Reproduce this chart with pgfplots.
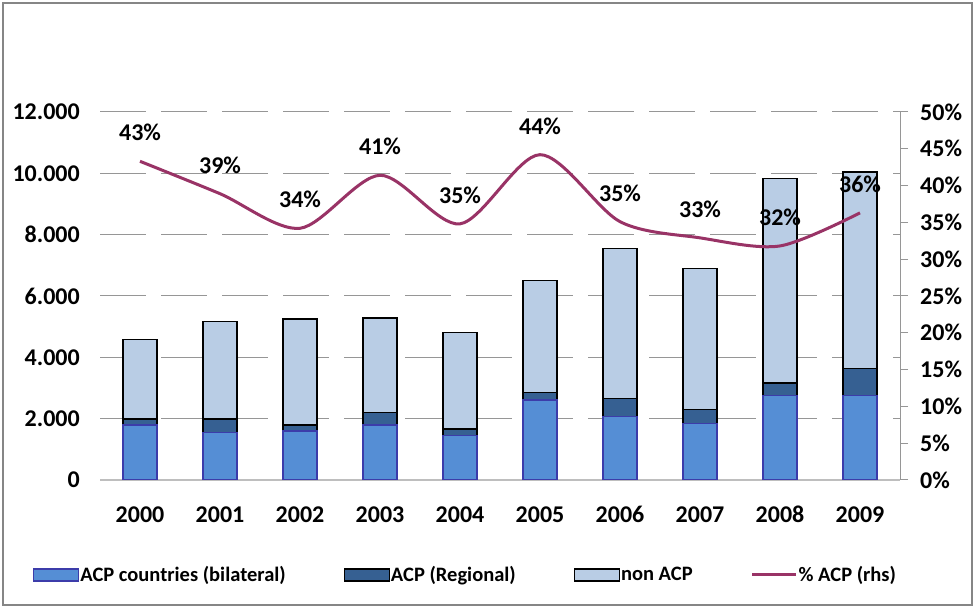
\documentclass[border=0pt]{standalone}
\usepackage{fontspec}
\setmainfont{Carlito}[Numbers=Lining]
\usepackage{pgfplots}
\pgfplotsset{compat=1.18}
\definecolor{bilat}{RGB}{85,142,213}
\definecolor{bilatedge}{RGB}{60,60,170}
\definecolor{regio}{RGB}{54,96,146}
\definecolor{nonacp}{RGB}{185,205,229}
\definecolor{acpline}{RGB}{153,51,102}
\definecolor{gridc}{RGB}{150,150,150}
\definecolor{framec}{RGB}{134,134,134}
\definecolor{basec}{RGB}{190,190,190}
\pgfplotsset{
  barlegend/.style={legend image code/.code={\draw[##1] (0bp,-6bp) rectangle (45bp,6bp);}},
  linelegend/.style={legend image code/.code={\draw[##1] (0bp,0bp) -- (44bp,0bp);}},
  common/.style={
    at={(100bp,128bp)}, anchor=south west,
    scale only axis, width=800bp, height=368bp,
    xmin=-0.5, xmax=9.5,
    /pgf/number format/assume math mode=true,
    tick label style={font=\fontsize{24bp}{28bp}\selectfont\bfseries},
  },
}
\begin{document}
\begin{tikzpicture}[x=1bp,y=1bp]
\path[use as bounding box] (0,0) rectangle (975,608);
\draw[framec, line width=1.2bp] (3,3) rectangle (972,605);
\begin{axis}[
  common,
  ymin=0, ymax=12000,
  ybar stacked, bar width=34bp,
  xtick={0,1,2,3,4,5,6,7,8,9},
  xticklabels={2000,2001,2002,2003,2004,2005,2006,2007,2008,2009},
  ytick={0,2000,4000,6000,8000,10000,12000},
  scaled y ticks=false,
  yticklabel style={/pgf/number format/1000 sep={.}, /pgf/number format/fixed},
  axis x line*=bottom, axis y line*=left,
  x axis line style={draw=basec, line width=2bp},
  y axis line style={draw=none},
  major tick length=0pt,
  tick style={draw=none},
  ymajorgrids,
  major grid style={draw=gridc, line width=1bp, dash pattern=on 46bp off 15bp},
  yticklabel style={inner sep=0pt, anchor=east, xshift=-20bp},
  xticklabel style={inner sep=0pt, text height=15bp, text depth=0bp, anchor=north, yshift=-27bp},
]
\addplot[fill=bilat, draw=bilatedge, line width=1.2bp] coordinates {
(0,1790) (1,1540) (2,1600) (3,1790) (4,1440) (5,2610) (6,2080) (7,1840) (8,2750) (9,2750)};
\addplot[fill=regio, draw=black, line width=1.2bp] coordinates {
(0,200) (1,450) (2,190) (3,400) (4,220) (5,250) (6,590) (7,450) (8,410) (9,880)};
\addplot[fill=nonacp, draw=black, line width=1.2bp] coordinates {
(0,2600) (1,3190) (2,3460) (3,3090) (4,3140) (5,3640) (6,4890) (7,4600) (8,6680) (9,6410)};
\end{axis}
\begin{axis}[
  common,
  ymin=0, ymax=50,
  axis x line=none, axis y line*=right,
  y axis line style={draw=gridc, line width=1bp},
  ytick={0,5,10,15,20,25,30,35,40,45,50},
  yticklabel={\pgfmathprintnumber{\tick}\%},
  tick align=outside, major tick length=8bp,
  ytick style={draw=gridc, line width=1bp},
  yticklabel style={inner sep=0pt, anchor=west, xshift=12bp},
  legend columns=4,
  legend style={at={(-0.08375,-0.258)}, anchor=west, draw=none, fill=none,
    inner sep=0pt,
    font=\fontsize{20.5bp}{24bp}\selectfont\bfseries,
    /tikz/every even column/.append style={column sep=57bp},
    nodes={inner xsep=1bp, inner ysep=1bp}},
  legend cell align=left,
]
\addlegendimage{barlegend, fill=bilat, draw=bilatedge, line width=1.2bp}
\addlegendentry{ACP countries (bilateral)}
\addlegendimage{barlegend, fill=regio, draw=black, line width=1.2bp}
\addlegendentry{ACP (Regional)}
\addlegendimage{barlegend, fill=nonacp, draw=black, line width=1.2bp}
\addlegendentry{non ACP}
\addplot[acpline, line width=3bp, smooth, mark=none,
  nodes near coords={\pgfmathprintnumber[fixed,precision=0]{\pgfplotspointmeta}\%},
  every node near coord/.append style={text=black, anchor=center, yshift=28.5bp,
    inner sep=0pt, font=\fontsize{24bp}{28bp}\selectfont\bfseries,
    /pgf/number format/assume math mode=true},
  linelegend] coordinates {
(0,43.3) (1,38.9) (2,34.2) (3,41.4) (4,34.8) (5,44.2) (6,35.1) (7,32.9) (8,31.8) (9,36.3)};
\addlegendentry{\% ACP (rhs)}
\end{axis}
\end{tikzpicture}
\end{document}
